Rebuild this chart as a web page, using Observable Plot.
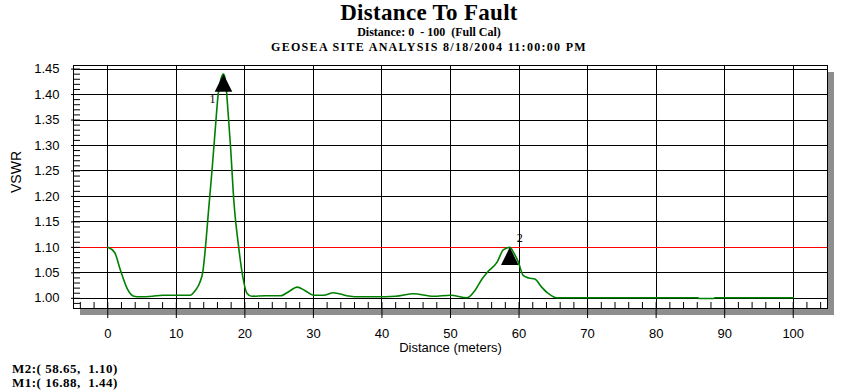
<!DOCTYPE html>
<html>
<head>
<meta charset="utf-8">
<script src="https://cdn.jsdelivr.net/npm/d3@7"></script>
<script src="https://cdn.jsdelivr.net/npm/@observablehq/plot@0.6"></script>
<style>
  html, body { margin: 0; padding: 0; background: white; }
  #wrap { position: relative; width: 858px; height: 392px; overflow: hidden; }
  #wrap svg line, #wrap svg rect { shape-rendering: crispEdges; }
  .t { position: absolute; left: 0; width: 858px; text-align: center; font-family: "Liberation Serif", serif; font-weight: bold; color: black; white-space: pre; }
  .m { position: absolute; left: 12px; font-family: "Liberation Serif", serif; font-weight: bold; font-size: 13px; line-height: 14px; letter-spacing: 0.5px; white-space: pre; }
</style>
</head>
<body>
<div id="wrap"></div>
<script>
// ---- data ----
const dist = [0, 1, 1.85, 2.8, 3.8, 4.8, 6.5, 8, 10, 12, 12.8, 13.4, 13.9, 14.25, 14.7, 15.2, 15.7, 16.1, 16.5, 16.88, 17.2, 17.4, 17.9, 18.4, 19.1, 19.7, 20.3, 21.0, 23, 25.2, 26.5, 27.6, 28.8, 30, 31.5, 32.9, 34.9, 36, 39, 42, 44.6, 47.5, 50, 52.4, 53.6, 54.6, 55.5, 56.8, 57.7, 58.65, 59.2, 59.9, 60.6, 61.4, 62.3, 63.3, 64.3, 65.5, 70, 80, 86.1, 86.3, 88.3, 88.6, 95, 100];
const vswr = [1.10, 1.09, 1.055, 1.02, 1.004, 1.003, 1.004, 1.006, 1.006, 1.006, 1.016, 1.03, 1.055, 1.10, 1.172, 1.25, 1.335, 1.40, 1.43, 1.44, 1.425, 1.393, 1.30, 1.19, 1.10, 1.042, 1.01, 1.004, 1.005, 1.005, 1.014, 1.022, 1.015, 1.006, 1.006, 1.011, 1.005, 1.003, 1.003, 1.004, 1.009, 1.004, 1.006, 1.001, 1.016, 1.038, 1.053, 1.071, 1.095, 1.10, 1.09, 1.071, 1.045, 1.040, 1.038, 1.022, 1.009, 1.001, 1.001, 1.001, 1.001, 0.9995, 0.9995, 1.001, 1.001, 1.001];

const markerDist = [16.88, 58.65];
const markerVswr = [1.44, 1.10];
const markerLabels = ["1", "2"];

const limitLine = [1.10];

const xTicks = [0, 10, 20, 30, 40, 50, 60, 70, 80, 90, 100];
const yTicks = [1.00, 1.05, 1.10, 1.15, 1.20, 1.25, 1.30, 1.35, 1.40, 1.45];
const xMinor = d3.range(-4, 105, 2);
const yMinor = d3.range(99, 146).map(d => d / 100);

const titleText = "Distance To Fault";
const subtitleText = "Distance: 0  - 100  (Full Cal)";
const siteText = "GEOSEA SITE ANALYSIS 8/18/2004 11:00:00 PM";
const readouts = ["M2:( 58.65,  1.10)", "M1:( 16.88,  1.44)"];

// ---- build ----
const data = dist.map((d, i) => ({d, v: vswr[i]}));
const markers = markerDist.map((d, i) => ({d, v: markerVswr[i], label: markerLabels[i]}));
const gridTicks = yTicks.filter(t => !limitLine.includes(t));

// isosceles triangle whose apex is the anchor point
const apexTriangle = {
  draw(context, size) {
    const r = Math.sqrt(size / Math.PI);
    context.moveTo(0, 0);
    context.lineTo(r, 2 * r);
    context.lineTo(-r, 2 * r);
    context.closePath();
  }
};

const chart = Plot.plot({
  width: 858,
  height: 392,
  marginTop: 65,
  marginLeft: 73,
  marginRight: 31,
  marginBottom: 84,
  x: {domain: [-5, 105], label: null},
  y: {domain: [0.98, 1.457], label: null},
  style: {fontFamily: "'Liberation Sans', Arial, sans-serif", fontSize: "13px", background: "white", color: "black"},
  marks: [
    Plot.frame({fill: "#8e8e8e", dx: 6, dy: 6}),
    Plot.frame({fill: "white"}),
    Plot.gridY(gridTicks, {stroke: "black", strokeOpacity: 1}),
    Plot.gridX(xTicks, {stroke: "black", strokeOpacity: 1}),
    Plot.ruleY(limitLine, {stroke: "#ff0000", strokeWidth: 1}),
    Plot.axisX(xMinor, {tickSize: -6, tickFormat: () => "", stroke: "black"}),
    Plot.axisY(yMinor, {tickSize: -7, tickFormat: () => "", stroke: "black"}),
    Plot.axisX(xTicks, {tickSize: 10, tickPadding: 10, tickFormat: d => String(d), stroke: "black", fontSize: 13}),
    Plot.axisY(yTicks, {tickSize: 2, tickPadding: 12, tickFormat: d => d.toFixed(2), stroke: "black", fontSize: 13}),
    Plot.line(data, {x: "d", y: "v", stroke: "#008000", strokeWidth: 1.6, curve: "monotone-x"}),
    Plot.dot(markers, {x: "d", y: "v", symbol: apexTriangle, r: 8.8, fill: "black", stroke: "none"}),
    Plot.text([markers[0]], {x: "d", y: "v", text: "label", dx: -11, dy: 25, fontFamily: "'Liberation Serif', serif", fontSize: 12}),
    Plot.text([markers[1]], {x: "d", y: "v", text: "label", dx: 10, dy: -9, fontFamily: "'Liberation Serif', serif", fontSize: 12}),
    Plot.frame({stroke: "black", strokeWidth: 1}),
    Plot.text(["VSWR"], {frameAnchor: "left", dx: -57, dy: 6, rotate: -90, fontSize: 14}),
    Plot.text(["Distance (meters)"], {frameAnchor: "bottom", dy: 43, fontSize: 13})
  ]
});

const wrap = document.getElementById("wrap");
wrap.appendChild(chart);

function addText(cls, txt, top, size, lh, ls) {
  const el = document.createElement("div");
  el.className = cls;
  el.textContent = txt;
  el.style.top = top + "px";
  if (size) el.style.fontSize = size + "px";
  if (lh) el.style.lineHeight = lh + "px";
  if (ls) el.style.letterSpacing = ls + "px";
  wrap.appendChild(el);
}
addText("t", titleText, 0, 23, 25, 0.3);
addText("t", subtitleText, 25, 12, 14);
addText("t", siteText, 40, 12, 14, 1.3);
addText("m", readouts[0], 362);
addText("m", readouts[1], 376);
</script>
</body>
</html>
